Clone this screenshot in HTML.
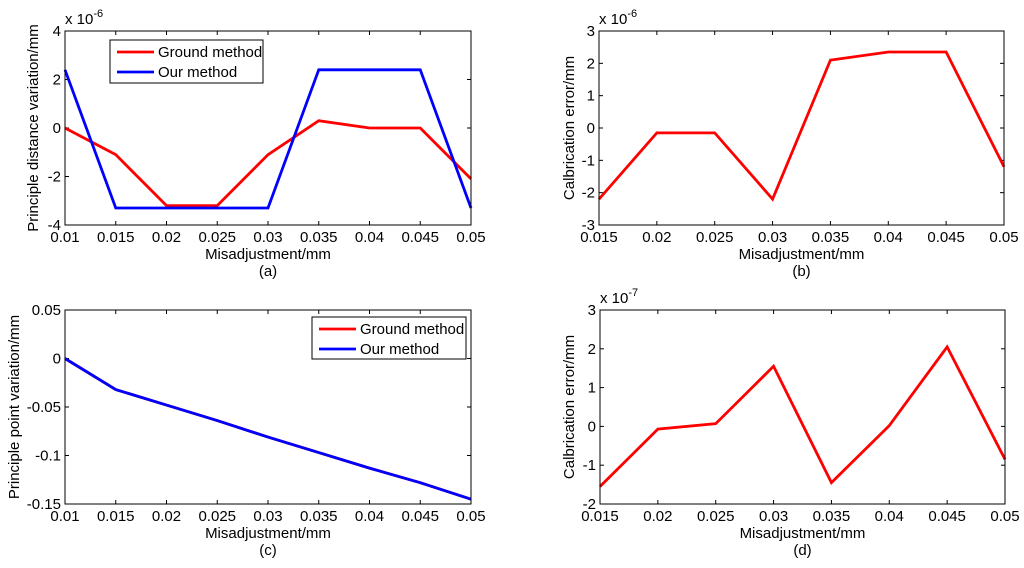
<!DOCTYPE html>
<html><head><meta charset="utf-8">
<style>
html,body{margin:0;padding:0;background:#fff;}
svg{display:block;font-family:"Liberation Sans",Arial,sans-serif;}
</style></head>
<body>
<svg id="fig" width="1024" height="568" viewBox="0 0 1024 568"></svg>
<script>
const xA = [0.01,0.015,0.02,0.025,0.03,0.035,0.04,0.045,0.05];
const groundA = [0,-1.1,-3.2,-3.2,-1.1,0.3,0,0,-2.1];
const oursA = [2.4,-3.3,-3.3,-3.3,-3.3,2.4,2.4,2.4,-3.3];
const xB = [0.015,0.02,0.025,0.03,0.035,0.04,0.045,0.05];
const errB = [-2.2,-0.15,-0.15,-2.2,2.1,2.35,2.35,-1.2];
const xC = [0.01,0.015,0.02,0.025,0.03,0.035,0.04,0.045,0.05];
const groundC = [0,-0.032,-0.048,-0.064,-0.081,-0.097,-0.113,-0.128,-0.145];
const oursC = [0,-0.032,-0.048,-0.064,-0.081,-0.097,-0.113,-0.128,-0.145];
const xD = [0.015,0.02,0.025,0.03,0.035,0.04,0.045,0.05];
const errD = [-1.55,-0.07,0.07,1.55,-1.45,0.02,2.05,-0.85];
const xTicksA = ["0.01","0.015","0.02","0.025","0.03","0.035","0.04","0.045","0.05"];
const xTicksB = ["0.015","0.02","0.025","0.03","0.035","0.04","0.045","0.05"];
const yTicksA = [-4,-2,0,2,4];
const yTicksB = [-3,-2,-1,0,1,2,3];
const yTicksC = [-0.15,-0.1,-0.05,0,0.05];
const yTicksD = [-2,-1,0,1,2,3];

const NS="http://www.w3.org/2000/svg";
const svg=document.getElementById('fig');
const FS=15;
function mk(tag,attrs,parent,text){const e=document.createElementNS(NS,tag);for(const k in attrs)e.setAttribute(k,attrs[k]);if(text!==undefined)e.textContent=text;(parent||svg).appendChild(e);return e;}

function panel(o){
  const g=mk('g',{});
  
  
  const {L,R,T,B,xmin,xmax,ymin,ymax}=o;
  const sx=v=>L+(v-xmin)/(xmax-xmin)*(R-L);
  const sy=v=>B-(v-ymin)/(ymax-ymin)*(B-T);
  o.xt.forEach(t=>{const v=parseFloat(t);const x=sx(v);
    mk('line',{x1:x,y1:B,x2:x,y2:B-4,stroke:'#000','stroke-width':1},g);
    mk('line',{x1:x,y1:T,x2:x,y2:T+4,stroke:'#000','stroke-width':1},g);
    const tx=mk('text',{x:x,y:B+17,'font-size':FS,'text-anchor':'middle'},g,t);
    
    
  });
  o.yt.forEach(v=>{const y=sy(v);
    mk('line',{x1:L,y1:y,x2:L+4,y2:y,stroke:'#000','stroke-width':1},g);
    mk('line',{x1:R,y1:y,x2:R-4,y2:y,stroke:'#000','stroke-width':1},g);
    const tx=mk('text',{x:L-4,y:y+5,'font-size':FS,'text-anchor':'end'},g,String(v));
    
    
  });
  o.series.forEach(s=>{
    const pts=s.x.map((xv,i)=>sx(xv)+','+sy(s.y[i])).join(' ');
    const p=mk('polyline',{points:pts,fill:'none',stroke:s.color,'stroke-width':2.8,'stroke-linejoin':'miter'},g);
    
    
  });
  const fr=mk('rect',{x:L,y:T,width:R-L,height:B-T,fill:'none',stroke:'#000','stroke-width':1},g);
  
  
  if(o.exp){const e=mk('text',{x:L,y:T-7,'font-size':FS},g);
    
    
    e.textContent='x 10';
    mk('tspan',{dy:-7,'font-size':11},e,o.exp);}
  const xl=mk('text',{x:(L+R)/2,y:B+34,'font-size':FS,'text-anchor':'middle'},g,'Misadjustment/mm');
  
  
  const cap=mk('text',{x:(L+R)/2,y:B+51,'font-size':FS,'text-anchor':'middle'},g,o.cap);
  
  
  const yl=mk('text',{x:0,y:0,'font-size':FS,'text-anchor':'middle',transform:`translate(${o.ylx},${(T+B)/2}) rotate(-90)`},g,o.ylab);
  
  
  if(o.legend){const lg=o.legend;
    const lgG=mk('g',{},g);
    
    
    mk('rect',{x:lg.x,y:lg.y,width:lg.w,height:lg.h,fill:'#fff',stroke:'#000','stroke-width':1},lgG);
    [['Ground method','#ff0000'],['Our method','#0000ff']].forEach((e,i)=>{
      const yy=lg.y+12+i*20;
      const en=mk('g',{},lgG);
      
      
      mk('line',{x1:lg.x+7,y1:yy,x2:lg.x+44,y2:yy,stroke:e[1],'stroke-width':2.8},en);
      mk('text',{x:lg.x+48,y:yy+5,'font-size':FS},en,e[0]);
    });
  }
}

panel({name:'panel-a',L:65,R:471,T:31,B:225,xmin:0.01,xmax:0.05,ymin:-4,ymax:4,xt:xTicksA,yt:yTicksA,exp:'-6',cap:'(a)',ylab:'Principle distance variation/mm',ylx:38,
  series:[{name:'ground-method-line',x:xA,y:groundA,color:'#ff0000'},{name:'our-method-line',x:xA,y:oursA,color:'#0000ff'}],
  legend:{x:110,y:40,w:153,h:43}});
panel({name:'panel-b',L:599,R:1004,T:31,B:225,xmin:0.015,xmax:0.05,ymin:-3,ymax:3,xt:xTicksB,yt:yTicksB,exp:'-6',cap:'(b)',ylab:'Calbrication error/mm',ylx:574,
  series:[{name:'calibration-error-line',x:xB,y:errB,color:'#ff0000'}]});
panel({name:'panel-c',L:65,R:471,T:310,B:504,xmin:0.01,xmax:0.05,ymin:-0.15,ymax:0.05,xt:xTicksA,yt:yTicksC,cap:'(c)',ylab:'Principle point variation/mm',ylx:19,
  series:[{name:'ground-method-line',x:xC,y:groundC,color:'#ff0000'},{name:'our-method-line',x:xC,y:oursC,color:'#0000ff'}],
  legend:{x:312,y:317,w:154,h:42}});
panel({name:'panel-d',L:600,R:1005,T:310,B:504,xmin:0.015,xmax:0.05,ymin:-2,ymax:3,xt:xTicksB,yt:yTicksD,exp:'-7',cap:'(d)',ylab:'Calbrication error/mm',ylx:574,
  series:[{name:'calibration-error-line',x:xD,y:errD,color:'#ff0000'}]});
</script>
</body></html>
